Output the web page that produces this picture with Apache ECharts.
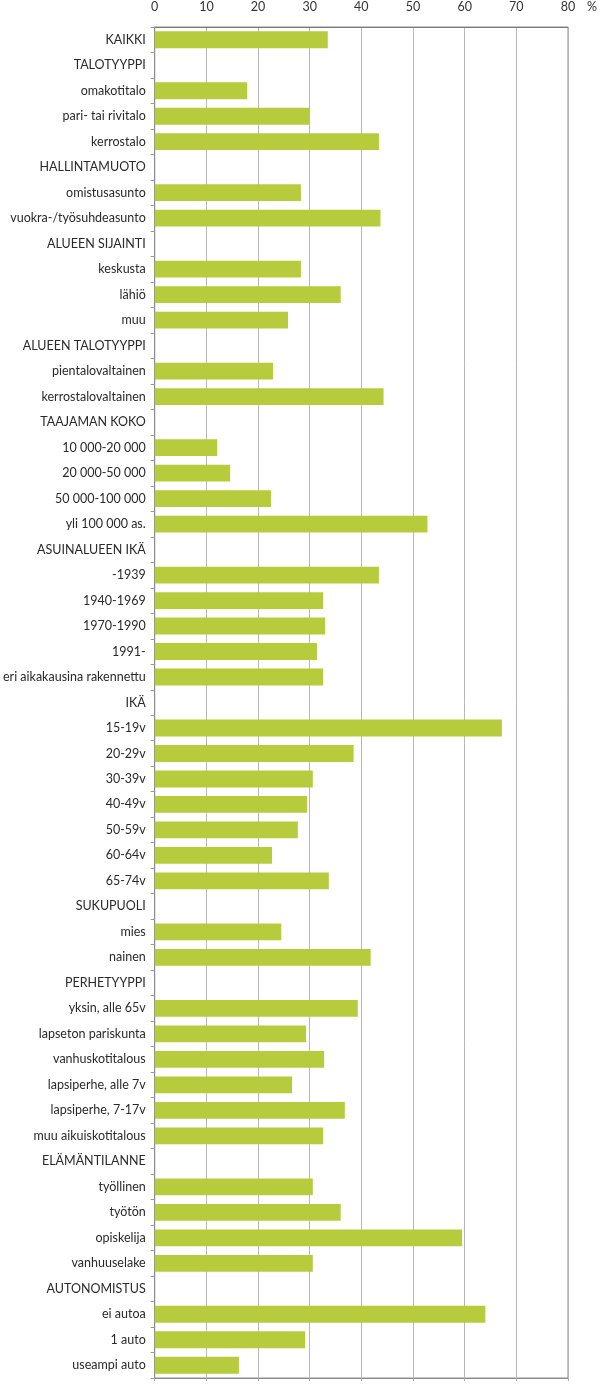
<!DOCTYPE html>
<html>
<head>
<meta charset="utf-8">
<script src="https://cdn.jsdelivr.net/npm/echarts@6/dist/echarts.min.js"></script>
<style>
html,body{margin:0;padding:0;background:#fff;}
#chart{width:605px;height:1390px;}
</style>
</head>
<body>
<div id="chart"></div>
<script>
const categories = [
  "KAIKKI","TALOTYYPPI","omakotitalo","pari- tai rivitalo","kerrostalo",
  "HALLINTAMUOTO","omistusasunto","vuokra-/työsuhdeasunto",
  "ALUEEN SIJAINTI","keskusta","lähiö","muu",
  "ALUEEN TALOTYYPPI","pientalovaltainen","kerrostalovaltainen",
  "TAAJAMAN KOKO","10 000-20 000","20 000-50 000","50 000-100 000","yli 100 000 as.",
  "ASUINALUEEN IKÄ","-1939","1940-1969","1970-1990","1991-","eri aikakausina rakennettu",
  "IKÄ","15-19v","20-29v","30-39v","40-49v","50-59v","60-64v","65-74v",
  "SUKUPUOLI","mies","nainen",
  "PERHETYYPPI","yksin, alle 65v","lapseton pariskunta","vanhuskotitalous","lapsiperhe, alle 7v","lapsiperhe, 7-17v","muu aikuiskotitalous",
  "ELÄMÄNTILANNE","työllinen","työtön","opiskelija","vanhuuselake",
  "AUTONOMISTUS","ei autoa","1 auto","useampi auto"
];
const values = [
  33.5, null, 17.9, 29.9, 43.4,
  null, 28.3, 43.7,
  null, 28.3, 36.0, 25.8,
  null, 22.9, 44.3,
  null, 12.1, 14.6, 22.5, 52.8,
  null, 43.4, 32.6, 33.0, 31.4, 32.6,
  null, 67.2, 38.5, 30.6, 29.5, 27.7, 22.7, 33.7,
  null, 24.5, 41.8,
  null, 39.3, 29.3, 32.8, 26.6, 36.8, 32.6,
  null, 30.6, 36.0, 59.5, 30.6,
  null, 64.0, 29.1, 16.3
];
const xTicks = { min: 0, max: 80, interval: 10 };
const unitLabel = "%";

const FONT = "Lato, 'Open Sans', sans-serif";
const chart = echarts.init(document.getElementById('chart'), null, {renderer:'canvas'});
chart.setOption({
  animation: false,
  backgroundColor: '#fff',
  grid: { left: 153, right: 37, top: 25, bottom: 12, show: true, borderColor: '#8c8c8c', borderWidth: 1 },
  xAxis: [{
    type: 'value', position: 'top', min: xTicks.min, max: xTicks.max, interval: xTicks.interval,
    axisLine: { show: true, lineStyle: { color: '#7a7a7a', width: 1 } },
    axisTick: { show: false },
    axisLabel: { color: '#333', fontFamily: FONT, fontSize: 12.5, margin: 14 },
    splitLine: { show: true, lineStyle: { color: '#b8b8b8', width: 1 } }
  }, {
    type: 'value', position: 'bottom', min: xTicks.min, max: xTicks.max, interval: xTicks.interval,
    axisLine: { show: true, lineStyle: { color: '#8c8c8c', width: 1 } },
    axisTick: { show: true, length: 3, lineStyle: { color: '#aaa' } },
    axisLabel: { show: false },
    splitLine: { show: false }
  }],
  yAxis: {
    type: 'category', inverse: true, data: categories,
    axisLine: { show: true, lineStyle: { color: '#8c8c8c', width: 1 } },
    axisTick: { show: true, length: 4, lineStyle: { color: '#9a9a9a' } },
    axisLabel: { color: '#2a2a2a', fontFamily: FONT, fontSize: 12.5, margin: 9 }
  },
  graphic: [{
    type: 'text', left: 587, top: 0,
    style: { text: unitLabel, fill: '#333', font: '12.5px ' + FONT }
  }],
  series: [{
    type: 'bar', data: values, xAxisIndex: 0, barWidth: '66%',
    itemStyle: { color: '#b6cc3c' }
  }]
});
</script>
</body>
</html>
